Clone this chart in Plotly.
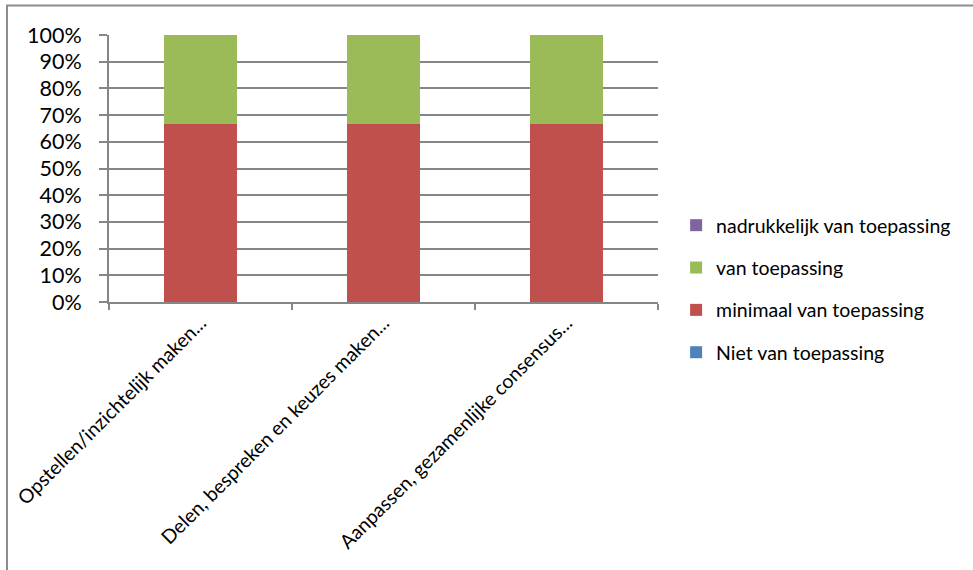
import plotly.graph_objects as go

categories = ["Opstellen/inzichtelijk maken...", "Delen, bespreken en keuzes maken...", "Aanpassen, gezamenlijke consensus..."]
series_names = ["Niet van toepassing", "minimaal van toepassing", "van toepassing", "nadrukkelijk van toepassing"]
niet = [0, 0, 0]
minimaal = [66.67, 66.67, 66.67]
van = [33.33, 33.33, 33.33]
nadrukkelijk = [0, 0, 0]
colors = ["#4F81BD", "#C0504D", "#9BBB59", "#8064A2"]
legend_ranks = [4, 3, 2, 1]
y_ticks = [0, 10, 20, 30, 40, 50, 60, 70, 80, 90, 100]

FONT = "Lato, Calibri, Carlito, sans-serif"

fig = go.Figure()
for name, vals, col, rk in zip(series_names, [niet, minimaal, van, nadrukkelijk], colors, legend_ranks):
    fig.add_trace(go.Bar(x=categories, y=vals, name=name, marker_color=col,
                         marker_line_width=0, legendgroup=name, legendrank=rk))

L, R, T, B = 109, 658, 35, 302
W, H = 973, 570
fig.update_layout(
    width=W, height=H,
    barmode="stack", bargap=0.6,
    margin=dict(l=L, r=W - R, t=T, b=H - B, pad=0),
    plot_bgcolor="white", paper_bgcolor="white",
    font=dict(family=FONT, color="black"),
    showlegend=True,
    legend=dict(traceorder="grouped", tracegroupgap=14,
                x=1.033, xanchor="left", y=(B - 289) / (B - T), yanchor="middle",
                font=dict(size=19.5, family=FONT), itemwidth=30),
    xaxis=dict(tickangle=-45, tickfont=dict(size=19.5, family=FONT),
               showline=True, linecolor="#868686", linewidth=2,
               ticks="outside", tickson="boundaries", ticklen=6,
               tickcolor="#868686", tickwidth=2, showgrid=False),
    yaxis=dict(range=[0, 100], tickvals=y_ticks,
               ticktext=[f"{v}%" for v in y_ticks],
               tickfont=dict(size=21.5, family=FONT), ticklabelstandoff=13,
               showline=True, linecolor="#868686", linewidth=2,
               ticks="outside", ticklen=8, tickcolor="#868686", tickwidth=2,
               showgrid=True, gridcolor="#868686", gridwidth=2,
               zeroline=False),
)
# chart border
fig.add_shape(type="rect", xref="paper", yref="paper",
              x0=(7 - L) / (R - L), x1=(990 - L) / (R - L),
              y0=(B - 590) / (B - T), y1=(B - 5.5) / (B - T),
              line=dict(color="#8C8C8C", width=2), fillcolor="rgba(0,0,0,0)", layer="below")

fig.write_html("out.html")
